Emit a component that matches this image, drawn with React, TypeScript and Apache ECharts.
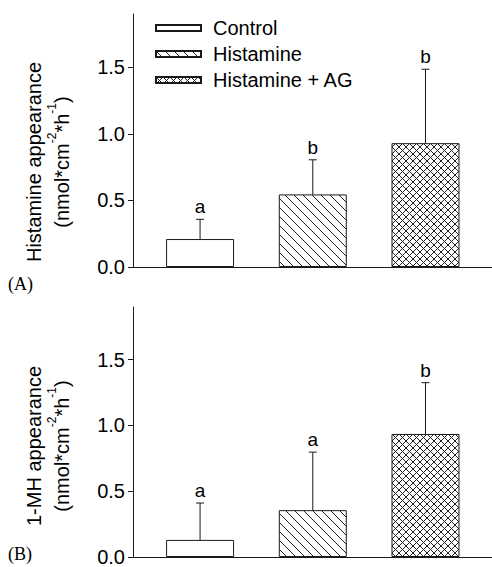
import React, { useEffect, useRef } from "react";
import * as echarts from "echarts";

const categories = ["Control", "Histamine", "Histamine + AG"];
const xPositions = [1, 2, 3];
const histMeans = [0.21, 0.545, 0.93];
const histErrTop = [0.358, 0.805, 1.485];
const histLetters = ["a", "b", "b"];
const mhMeans = [0.13, 0.356, 0.935];
const mhErrTop = [0.41, 0.797, 1.325];
const mhLetters = ["a", "a", "b"];
const yTicks = [0, 0.5, 1.0, 1.5];

const FONT = "'Liberation Sans', Arial, Helvetica, sans-serif";
const SERIF = "'Liberation Serif', 'Times New Roman', serif";

function makePattern(kind: string, s: number) {
  const c = document.createElement("canvas");
  c.width = s;
  c.height = s;
  const ctx = c.getContext("2d")!;
  ctx.fillStyle = "#fff";
  ctx.fillRect(0, 0, s, s);
  ctx.strokeStyle = "#222";
  ctx.lineWidth = 1;
  for (let k = -1; k <= 1; k++) {
    ctx.beginPath();
    ctx.moveTo(k * s - 1, -1);
    ctx.lineTo(k * s + s + 1, s + 1);
    ctx.stroke();
    if (kind === "cross") {
      ctx.beginPath();
      ctx.moveTo(k * s - 1, s + 1);
      ctx.lineTo(k * s + s + 1, -1);
      ctx.stroke();
    }
  }
  return { image: c, repeat: "repeat", imageWidth: s, imageHeight: s } as any;
}

export default function App() {
  const ref = useRef<HTMLDivElement>(null);
  useEffect(() => {
    if (!ref.current) return;
    const chart = echarts.init(ref.current, undefined, { renderer: "svg" });
    const fills: any[] = ["#ffffff", makePattern("diag", 9), makePattern("cross", 7)];

    const panels = [
      { means: histMeans, errs: histErrTop, letters: histLetters },
      { means: mhMeans, errs: mhErrTop, letters: mhLetters },
    ];

    const series: any[] = [];
    panels.forEach((p, g) => {
      categories.forEach((name, i) => {
        series.push({
          type: "bar",
          name,
          xAxisIndex: g,
          yAxisIndex: g,
          barWidth: 68,
          barGap: "-100%",
          data: [[xPositions[i], p.means[i]]],
          itemStyle: { color: fills[i], borderColor: "#1a1a1a", borderWidth: 1 },
          emphasis: { disabled: true },
        });
      });
      series.push({
        type: "custom",
        name: "err" + g,
        xAxisIndex: g,
        yAxisIndex: g,
        z: 5,
        data: xPositions.map((x, i) => [x, p.means[i], p.errs[i]]),
        renderItem: (params: any, api: any) => {
          const x = api.value(0);
          const p0 = api.coord([x, api.value(1)]);
          const p1 = api.coord([x, api.value(2)]);
          return {
            type: "group",
            children: [
              { type: "line", shape: { x1: p0[0], y1: p0[1], x2: p1[0], y2: p1[1] }, style: { stroke: "#1a1a1a", lineWidth: 1 } },
              { type: "line", shape: { x1: p1[0] - 4, y1: p1[1], x2: p1[0] + 4, y2: p1[1] }, style: { stroke: "#1a1a1a", lineWidth: 1 } },
              {
                type: "text",
                x: p1[0],
                y: p1[1] - 3,
                style: {
                  text: p.letters[params.dataIndex],
                  fill: "#000",
                  fontSize: 19,
                  fontFamily: FONT,
                  align: "center",
                  verticalAlign: "bottom",
                },
              },
            ],
          };
        },
      });
    });

    const xAxisCfg = (g: number) => ({
      type: "value",
      gridIndex: g,
      min: 0.405,
      max: 3.59,
      axisLine: { show: true, onZero: false, lineStyle: { color: "#1a1a1a", width: 1 } },
      axisTick: { show: false },
      axisLabel: { show: false },
      splitLine: { show: false },
    });
    const yAxisCfg = (g: number) => ({
      type: "value",
      gridIndex: g,
      min: 0,
      max: 1.9,
      axisLine: { show: true, lineStyle: { color: "#1a1a1a", width: 1 } },
      axisTick: { show: true, length: 5, customValues: yTicks, lineStyle: { color: "#1a1a1a" } },
      axisLabel: {
        customValues: yTicks,
        formatter: (v: number) => v.toFixed(1),
        fontSize: 20,
        color: "#000",
        fontFamily: FONT,
        margin: 8,
      },
      splitLine: { show: false },
    });

    const ylabel = (line1: string, cx1: number, cx2: number, cy: number) => [
      {
        type: "text",
        x: cx1,
        y: cy,
        rotation: Math.PI / 2,
        style: { text: line1, fontSize: 20, fontFamily: FONT, fill: "#000", align: "center", verticalAlign: "middle" },
      },
      {
        type: "text",
        x: cx2,
        y: cy,
        rotation: Math.PI / 2,
        style: {
          text: "{n|(nmol*cm}{s|-2}{n|*h}{s|-1}{n|)}",
          align: "center",
          verticalAlign: "middle",
          rich: {
            n: { fontSize: 20, fontFamily: FONT, fill: "#000", lineHeight: 32 },
            s: { fontSize: 12, fontFamily: FONT, fill: "#000", verticalAlign: "top", lineHeight: 13 },
          },
        },
      },
    ];

    chart.setOption({
      animation: false,
      grid: [
        { left: 133, top: 14, width: 359, height: 253 },
        { left: 133, top: 307, width: 359, height: 253 },
      ],
      xAxis: [xAxisCfg(0), xAxisCfg(1)],
      yAxis: [yAxisCfg(0), yAxisCfg(1)],
      legend: {
        data: categories,
        orient: "vertical",
        left: 150,
        top: 13,
        icon: "rect",
        itemWidth: 45,
        itemHeight: 6,
        itemGap: 6,
        selectedMode: false,
        textStyle: { fontSize: 20, fontFamily: FONT, color: "#000", padding: [0, 0, 0, 7], lineHeight: 18 },
      },
      graphic: [
        ...ylabel("Histamine appearance", 34, 62, 162),
        ...ylabel("1-MH appearance", 34, 62, 446),
        { type: "text", x: 8, y: 284, style: { text: "(A)", fontSize: 18, fontFamily: SERIF, fill: "#000", verticalAlign: "middle" } },
        { type: "text", x: 8, y: 554, style: { text: "(B)", fontSize: 18, fontFamily: SERIF, fill: "#000", verticalAlign: "middle" } },
      ],
      series,
    });
    return () => chart.dispose();
  }, []);
  return <div ref={ref} style={{ position: "absolute", left: 0, top: 0, width: 492, height: 567 }} />;
}
